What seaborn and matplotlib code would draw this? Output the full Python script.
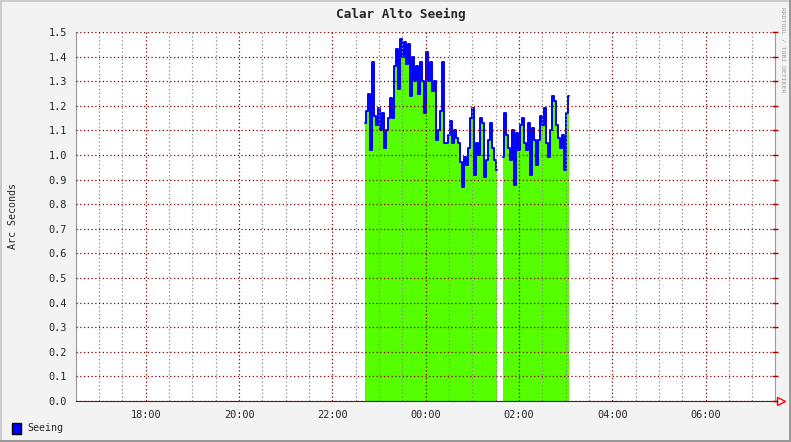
import numpy as np
import pandas as pd
import seaborn as sns
import matplotlib.pyplot as plt
from matplotlib.ticker import MultipleLocator
from matplotlib.patches import Rectangle

# seeing values (arc seconds), two runs of samples, hours relative to midnight
step_h = 0.0429
run1_start = -1.30
run1_vals = [1.13, 1.18, 1.25, 1.02, 1.38, 1.16, 1.12, 1.19, 1.10, 1.17,
             1.03, 1.10, 1.15, 1.23, 1.15, 1.36, 1.43, 1.27, 1.47, 1.40,
             1.46, 1.37, 1.45, 1.24, 1.40, 1.30, 1.36, 1.25, 1.38, 1.30,
             1.17, 1.42, 1.30, 1.38, 1.26, 1.30, 1.06, 1.10, 1.18, 1.38,
             1.05, 1.05, 1.08, 1.14, 1.05, 1.10, 1.07, 1.05, 0.97, 0.87,
             0.99, 0.96, 1.03, 1.15, 1.19, 0.92, 1.05, 1.00, 1.15, 1.13,
             0.91, 0.98, 1.06, 1.13, 1.03, 0.98, 0.94]
run2_start = 1.656
run2_vals = [0.99, 1.17, 1.08, 1.03, 0.98, 1.10, 0.88, 1.09, 1.02, 1.12,
             1.15, 1.05, 1.02, 1.13, 0.92, 1.11, 1.06, 0.96, 1.06, 1.16,
             1.12, 1.19, 1.05, 0.99, 1.10, 1.24, 1.22, 1.12, 1.07, 1.03,
             1.08, 0.94, 1.17, 1.24]

hour_ticks = [-6, -4, -2, 0, 2, 4, 6]
hour_labels = ['18:00', '20:00', '22:00', '00:00', '02:00', '04:00', '06:00']

rows = []
for seg, (t0, vals) in enumerate([(run1_start, run1_vals), (run2_start, run2_vals)]):
    for i, v in enumerate(vals):
        rows.append({'t': t0 + i * step_h, 'seeing': v, 'seg': seg})
df = pd.DataFrame(rows)

sns.set_style('white')
plt.rcParams['font.family'] = ['DejaVu Sans Mono']

fig = plt.figure(figsize=(7.91, 4.42), dpi=100, facecolor='#f3f3f3')
ax = fig.add_axes([76/791, 41/442, 699/791, 369/442])
ax.set_facecolor('white')

for seg, d in df.groupby('seg'):
    ax.fill_between(d['t'], d['seeing'], step='mid', color='#55ff00', lw=0)
sns.lineplot(data=df, x='t', y='seeing', units='seg', estimator=None,
             drawstyle='steps-mid', color='#0000ff', lw=1.4, ax=ax, legend=False)

ax.set_xlim(-7.493, 7.485)
ax.set_ylim(0, 1.5)
ax.set_xticks(hour_ticks)
ax.set_xticklabels(hour_labels)
ax.xaxis.set_minor_locator(MultipleLocator(0.5))
ax.yaxis.set_major_locator(MultipleLocator(0.1))
ax.set_yticklabels(['%.1f' % y for y in ax.get_yticks()])

ax.set_axisbelow(False)
ax.grid(which='major', color='#800000', ls=(0, (1, 2)), lw=0.9)
ax.grid(which='minor', axis='x', color='#888888', ls=(0, (1, 2)), lw=0.9)

ax.tick_params(which='major', direction='inout', length=5, width=1,
               color='#b00000', labelsize=7.4, pad=4, right=True)
ax.tick_params(which='minor', length=0)
ax.set_xlabel('')
ax.set_ylabel('')

ax.spines['top'].set_visible(False)
ax.spines['left'].set_color('#999999')
ax.spines['right'].set_color('#999999')
ax.spines['bottom'].set_color('#502020')

# arrow at end of time axis
ax.plot([7.485, 7.58], [0, 0], color='red', lw=1, clip_on=False)
ax.plot([7.61], [0], marker='>', ms=6, mfc='white', mec='red', mew=1, clip_on=False)

fig.text(401/791, 1 - 14/442, 'Calar Alto Seeing', ha='center', va='center',
         fontsize=9.2, fontweight='bold')
fig.text(13/791, 1 - 216/442, 'Arc Seconds', rotation=90, ha='center', va='center',
         fontsize=7.2)
fig.text(783/791, 1 - 50/442, 'RRDTOOL / TOBI OETIKER', rotation=270, ha='center',
         va='center', fontsize=4.6, color='#999999')

# legend
fig.add_artist(Rectangle((12/791, 1 - 434/442), 9/791, 11/442, transform=fig.transFigure,
                         facecolor='#0000ff', edgecolor='black', lw=1))
fig.text(27/791, 1 - 428/442, 'Seeing', ha='left', va='center', fontsize=7.2)

# frame
fig.add_artist(Rectangle((0, 1 - 2/442), 1, 2/442, transform=fig.transFigure, color='#cccccc', lw=0))
fig.add_artist(Rectangle((0, 0), 2/791, 1, transform=fig.transFigure, color='#cccccc', lw=0))
fig.add_artist(Rectangle((0, 0), 1, 2/442, transform=fig.transFigure, color='#999999', lw=0))
fig.add_artist(Rectangle((1 - 2/791, 0), 2/791, 1, transform=fig.transFigure, color='#999999', lw=0))

fig.savefig('out.png', dpi=100, facecolor=fig.get_facecolor())
